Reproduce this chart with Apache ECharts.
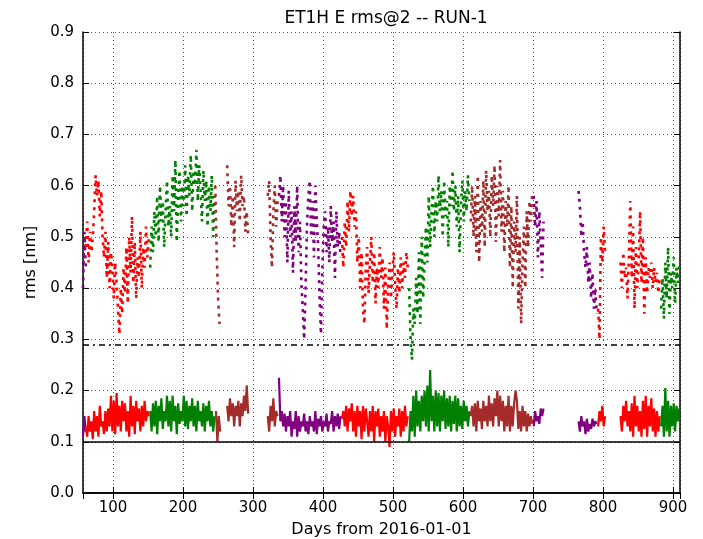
<!DOCTYPE html>
<html>
<head>
<meta charset="utf-8">
<script src="https://cdn.jsdelivr.net/npm/echarts@6/dist/echarts.min.js"></script>
<style>
  html, body { margin: 0; padding: 0; background: #fff; }
  #chart { width: 703px; height: 539px; }
</style>
</head>
<body>
<div id="chart"></div>
<script>
// day axis range and sampling step of the series (days)
const xMin = 57, xMax = 910;
const step = 2;
const refLevels = [0.29, 0.1];

// rms@2 (dashed) and rms (solid) values per run segment
const topPurpleA = [0.40, 0.51, 0.44];
const botPurpleA = [0.11, 0.15, 0.12];

const topRedA = [0.48, 0.53, 0.45, 0.51, 0.47, 0.50,
  0.55, 0.62, 0.58, 0.61, 0.54, 0.59, 0.50,
  0.46, 0.51, 0.42, 0.49, 0.40, 0.47, 0.44,
  0.38, 0.45, 0.41, 0.36, 0.31, 0.40, 0.35, 0.44,
  0.39, 0.48, 0.37, 0.50, 0.43, 0.54, 0.41, 0.49, 0.38, 0.46,
  0.42, 0.51, 0.40, 0.48, 0.44, 0.52, 0.46, 0.50];
const botRedA = [0.13, 0.11, 0.15, 0.12, 0.14, 0.105, 0.16, 0.12, 0.15, 0.11, 0.17, 0.13, 0.14, 0.115, 0.16, 0.12, 0.165, 0.13,
  0.19, 0.12, 0.18, 0.115, 0.195, 0.13, 0.17, 0.12, 0.18, 0.14, 0.175, 0.12, 0.16, 0.11, 0.19, 0.13, 0.17, 0.115,
  0.18, 0.14, 0.165, 0.12, 0.17, 0.13, 0.18, 0.14, 0.16, 0.15];

const topGreenA = [0.44, 0.52, 0.47, 0.55, 0.50, 0.58,
  0.49, 0.60, 0.53, 0.57, 0.48, 0.55, 0.61, 0.52, 0.56,
  0.50, 0.62, 0.55, 0.65, 0.49, 0.58, 0.63, 0.53, 0.60, 0.56,
  0.64, 0.54, 0.62, 0.58, 0.66, 0.55, 0.63, 0.60, 0.67, 0.57, 0.64, 0.59,
  0.53, 0.63, 0.57, 0.61, 0.52, 0.60, 0.55, 0.62, 0.50, 0.58];
const botGreenA = [0.16, 0.12, 0.175, 0.13, 0.18, 0.115, 0.17, 0.14, 0.185, 0.125,
  0.16, 0.14, 0.19, 0.13, 0.18, 0.12, 0.19, 0.14, 0.17, 0.115,
  0.175, 0.135, 0.16, 0.14, 0.19, 0.13, 0.18, 0.125, 0.17, 0.14,
  0.185, 0.13, 0.17, 0.12, 0.18, 0.14, 0.16, 0.13, 0.175, 0.12,
  0.17, 0.14, 0.18, 0.13, 0.16, 0.12, 0.15];

const topBrownA = [0.60, 0.47, 0.38, 0.33];
const botBrownA = [0.16, 0.10, 0.15, 0.12];

const topBrownB = [0.64, 0.56, 0.60, 0.52, 0.58, 0.48, 0.61, 0.55, 0.59, 0.53, 0.62, 0.56, 0.58, 0.51, 0.55, 0.50];
const botBrownB = [0.17, 0.14, 0.185, 0.15, 0.175, 0.13, 0.17, 0.15, 0.18, 0.13, 0.175, 0.15, 0.19, 0.16, 0.21, 0.155];

const topBrownC = [0.58, 0.61, 0.50, 0.44, 0.55, 0.60, 0.52, 0.57];
const botBrownC = [0.15, 0.12, 0.17, 0.14, 0.185, 0.13, 0.16, 0.15];

const topPurpleB = [0.58, 0.62, 0.53, 0.60, 0.50,
  0.57, 0.45, 0.59, 0.50, 0.55, 0.43, 0.56, 0.49, 0.60, 0.47, 0.53, 0.41,
  0.36, 0.30, 0.40, 0.52, 0.58,
  0.61, 0.50, 0.57, 0.46, 0.60, 0.53, 0.48,
  0.38, 0.31, 0.44, 0.52,
  0.55, 0.47, 0.52, 0.45, 0.56, 0.49, 0.53, 0.42, 0.55, 0.48, 0.51, 0.46];
const botPurpleB = [0.225, 0.14, 0.16, 0.13, 0.155, 0.12, 0.15, 0.13, 0.16, 0.11,
  0.14, 0.125, 0.16, 0.11, 0.15, 0.12, 0.14, 0.13, 0.155, 0.12,
  0.14, 0.115, 0.15, 0.13, 0.14, 0.12, 0.16, 0.115, 0.145, 0.13,
  0.15, 0.12, 0.14, 0.13, 0.155, 0.12, 0.14, 0.135, 0.16, 0.12,
  0.15, 0.13, 0.155, 0.125, 0.15];

const topRedB = [0.50, 0.44, 0.53, 0.48, 0.57, 0.51, 0.59, 0.54, 0.58, 0.52,
  0.55, 0.45, 0.50, 0.40, 0.47, 0.36, 0.33, 0.44,
  0.48, 0.39, 0.45, 0.50, 0.41, 0.47, 0.37, 0.44, 0.40, 0.48,
  0.42, 0.46, 0.36, 0.44, 0.32, 0.40, 0.45, 0.38, 0.43, 0.47,
  0.41, 0.36, 0.44, 0.39, 0.46, 0.40, 0.45, 0.42, 0.47, 0.44];
const botRedB = [0.145, 0.16, 0.13, 0.17, 0.12, 0.165, 0.14, 0.175, 0.12, 0.16,
  0.11, 0.17, 0.13, 0.16, 0.105, 0.17, 0.12, 0.165, 0.14, 0.11,
  0.16, 0.12, 0.17, 0.10, 0.16, 0.13, 0.165, 0.11, 0.15, 0.12,
  0.16, 0.10, 0.15, 0.13, 0.09, 0.16, 0.12, 0.165, 0.11, 0.15,
  0.13, 0.165, 0.11, 0.16, 0.12, 0.17, 0.13, 0.15];

const topGreenB = [0.40, 0.30, 0.26, 0.36, 0.33,
  0.42, 0.35, 0.47, 0.33, 0.50, 0.38, 0.45,
  0.52, 0.45, 0.58, 0.48, 0.55, 0.60, 0.50, 0.57,
  0.53, 0.62, 0.55, 0.59, 0.50, 0.61, 0.54, 0.57, 0.48, 0.60, 0.56, 0.63,
  0.55, 0.60, 0.52, 0.58, 0.47, 0.56, 0.61, 0.53, 0.59, 0.55, 0.62, 0.57];
const botGreenB = [0.10, 0.16, 0.12, 0.19, 0.11, 0.20, 0.13, 0.18, 0.12, 0.19,
  0.14, 0.20, 0.13, 0.21, 0.12, 0.24, 0.14, 0.19, 0.12, 0.20,
  0.13, 0.195, 0.12, 0.19, 0.14, 0.20, 0.125, 0.185, 0.13, 0.19,
  0.12, 0.18, 0.135, 0.19, 0.12, 0.185, 0.13, 0.17, 0.125, 0.18,
  0.14, 0.17, 0.13, 0.16];

const topBrownD = [0.53, 0.60, 0.50, 0.58, 0.47, 0.62,
  0.45, 0.57, 0.51, 0.61, 0.48, 0.63, 0.55, 0.59, 0.50, 0.62,
  0.56, 0.64, 0.49, 0.60, 0.54, 0.65, 0.51, 0.59, 0.47, 0.57,
  0.52, 0.60, 0.44, 0.56, 0.40, 0.53, 0.47, 0.58, 0.36, 0.50, 0.33, 0.45,
  0.52, 0.40, 0.55, 0.48, 0.57, 0.53, 0.59];
const botBrownD = [0.15, 0.17, 0.13, 0.175, 0.12, 0.18, 0.14, 0.165, 0.125, 0.18,
  0.14, 0.17, 0.13, 0.19, 0.14, 0.175, 0.13, 0.185, 0.15, 0.20,
  0.13, 0.19, 0.14, 0.18, 0.12, 0.17, 0.13, 0.19, 0.12, 0.17,
  0.13, 0.175, 0.20, 0.18, 0.125, 0.16, 0.12, 0.17, 0.13, 0.16,
  0.12, 0.155, 0.13, 0.15, 0.135];

const topPurpleC = [0.58, 0.52, 0.57, 0.46, 0.55, 0.49, 0.42, 0.53];
const botPurpleC = [0.13, 0.16, 0.14, 0.15, 0.135, 0.165, 0.15, 0.165];

const topPurpleD = [0.59, 0.56, 0.50, 0.53, 0.47, 0.44, 0.48, 0.41, 0.45, 0.38, 0.43, 0.36, 0.40, 0.35];
const botPurpleD = [0.14, 0.12, 0.15, 0.13, 0.14, 0.115, 0.145, 0.12, 0.135, 0.125, 0.145, 0.13, 0.14, 0.135];

const topRedC = [0.36, 0.30, 0.50, 0.45, 0.52, 0.47];
const botRedC = [0.13, 0.16, 0.14, 0.17, 0.13, 0.15];

const topRedD = [0.45, 0.40, 0.47, 0.42, 0.44, 0.38, 0.46,
  0.57, 0.42, 0.52, 0.36, 0.48, 0.40, 0.45,
  0.55, 0.41, 0.50, 0.35, 0.46, 0.39, 0.44,
  0.42, 0.45, 0.40, 0.44, 0.41, 0.43, 0.39, 0.42];
const botRedD = [0.15, 0.12, 0.17, 0.14, 0.18, 0.13, 0.16, 0.12, 0.175, 0.11,
  0.19, 0.13, 0.17, 0.12, 0.16, 0.11, 0.18, 0.125, 0.19, 0.11,
  0.17, 0.13, 0.185, 0.12, 0.165, 0.11, 0.16, 0.12, 0.15];

const topGreenC = [0.36, 0.42, 0.34, 0.45, 0.38, 0.48, 0.35, 0.43, 0.40, 0.46, 0.37, 0.44, 0.41, 0.45];
const botGreenC = [0.13, 0.17, 0.11, 0.205, 0.12, 0.18, 0.11, 0.17, 0.13, 0.175, 0.12, 0.17, 0.14, 0.165];

// [colour, first day of rms@2 values, rms@2 values, first day of rms values, rms values]
const segments = [
  ['purple', 57, topPurpleA, 57, botPurpleA],
  ['red', 61, topRedA, 61, botRedA],
  ['green', 153, topGreenA, 153, botGreenA],
  ['brown', 246, topBrownA, 247, botBrownA],
  ['brown', 263, topBrownB, 263, botBrownB],
  ['brown', 321, topBrownC, 321, botBrownC],
  ['purple', 337, topPurpleB, 337, botPurpleB],
  ['red', 427, topRedB, 427, botRedB],
  ['green', 523, topGreenB, 523, botGreenB],
  ['brown', 611, topBrownD, 611, botBrownD],
  ['purple', 701, topPurpleC, 701, botPurpleC],
  ['purple', 765, topPurpleD, 765, botPurpleD],
  ['red', 793, topRedC, 793, botRedC],
  ['red', 825, topRedD, 825, botRedD],
  ['green', 883, topGreenC, 883, botGreenC]
];

const palette = { red: '#ff0000', green: '#008000', brown: '#a52a2a', purple: '#800080' };
const font = 'DejaVu Sans';

function toPoints(start, vals) {
  return vals.map((v, i) => [start + i * step, v]);
}

const series = [];
segments.forEach(([c, t0, tv, b0, bv]) => {
  series.push({
    type: 'line', data: toPoints(t0, tv), showSymbol: false, silent: true,
    lineStyle: { color: palette[c], width: 2.6, type: [3, 5] }
  });
  series.push({
    type: 'line', data: toPoints(b0, bv), showSymbol: false, silent: true,
    lineStyle: { color: palette[c], width: 2.2 }
  });
});
series[0].markLine = {
  silent: true, symbol: 'none', label: { show: false }, animation: false,
  data: [
    { yAxis: refLevels[0], lineStyle: { color: '#000', width: 1.5, type: [6, 4, 2, 4] } },
    { yAxis: refLevels[1], lineStyle: { color: '#000', width: 1.5, type: 'solid' } }
  ]
};

const chart = echarts.init(document.getElementById('chart'));
chart.setOption({
  animation: false,
  backgroundColor: '#fff',
  title: {
    text: 'ET1H E rms@2 -- RUN-1',
    left: 381, top: 5, textAlign: 'center',
    textStyle: { fontFamily: font, fontSize: 17, fontWeight: 'normal', color: '#000' }
  },
  grid: { left: 83, right: 23, top: 32, bottom: 46, outerBoundsMode: 'none', containLabel: false },
  xAxis: [{
    type: 'value', min: xMin, max: xMax, splitNumber: 9,
    name: 'Days from 2016-01-01', nameLocation: 'middle', nameGap: 29,
    nameTextStyle: { fontFamily: font, fontSize: 16, color: '#000' },
    axisLine: { lineStyle: { color: '#000', width: 1.5 } },
    axisTick: { inside: true, length: 6, lineStyle: { color: '#000' } },
    axisLabel: { fontFamily: font, fontSize: 15, color: '#000', margin: 8, showMinLabel: false, showMaxLabel: false },
    splitLine: { show: true, lineStyle: { color: '#555', type: [1, 3], width: 1 } }
  }, {
    type: 'value', min: xMin, max: xMax, splitNumber: 9, position: 'top',
    axisLine: { show: true, lineStyle: { color: '#000', width: 1.5 } },
    axisTick: { inside: true, length: 6, lineStyle: { color: '#000' } },
    axisLabel: { show: false }, splitLine: { show: false }
  }],
  yAxis: [{
    type: 'value', min: 0, max: 0.9, interval: 0.1,
    name: 'rms [nm]', nameLocation: 'middle', nameGap: 36,
    nameTextStyle: { fontFamily: font, fontSize: 16, color: '#000' },
    axisLine: { show: true, lineStyle: { color: '#000', width: 1.5 } },
    axisTick: { inside: true, length: 6, lineStyle: { color: '#000' } },
    axisLabel: { fontFamily: font, fontSize: 15, color: '#000', margin: 9, formatter: v => v.toFixed(1) },
    splitLine: { show: true, lineStyle: { color: '#555', type: [1, 3], width: 1 } }
  }, {
    type: 'value', min: 0, max: 0.9, interval: 0.1, position: 'right',
    axisLine: { show: true, lineStyle: { color: '#000', width: 1.5 } },
    axisTick: { inside: true, length: 6, lineStyle: { color: '#000' } },
    axisLabel: { show: false }, splitLine: { show: false }
  }],
  series: series
});
</script>
</body>
</html>
